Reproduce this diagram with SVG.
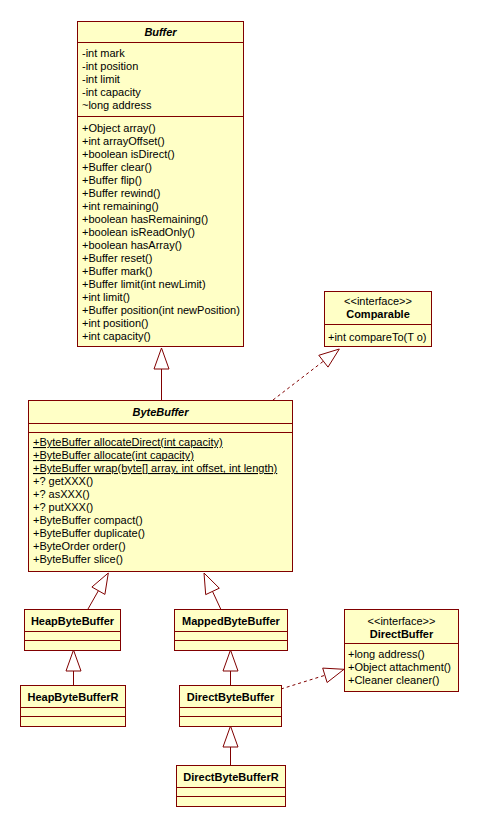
<svg xmlns="http://www.w3.org/2000/svg" width="479" height="827" viewBox="0 0 479 827">
<style>
.box{fill:#ffffc6;stroke:#800000;stroke-width:1}
.ln{stroke:#800000;stroke-width:1;fill:none}
.dash{stroke:#800000;stroke-width:1;fill:none;stroke-dasharray:3,3}
.tri{fill:#ffffff;stroke:#800000;stroke-width:1}
text{font-family:"Liberation Sans",Arial,sans-serif;font-size:11px;fill:#000}
.t{font-weight:bold;text-anchor:middle}
.ti{font-weight:bold;font-style:italic;text-anchor:middle}
.c{text-anchor:middle}
.u{text-decoration:underline}
</style>
<rect width="479" height="827" fill="#fff"/>
<g id="connectors">
<line class="ln" x1="161.5" y1="369" x2="161.5" y2="400"/>
<polygon class="tri" points="161.5,348 154,369 169,369"/>
<line class="dash" x1="273" y1="400" x2="323.4" y2="361.2"/>
<polygon class="tri" points="339.3,349 318.8,355.3 328,367.1"/>
<line class="ln" x1="88" y1="609" x2="98.4" y2="590.7"/>
<polygon class="tri" points="108.3,573 91.9,587 104.9,594.4"/>
<line class="ln" x1="220.7" y1="609" x2="212.5" y2="591.4"/>
<polygon class="tri" points="204,573 205.7,594.6 219.3,588.2"/>
<line class="ln" x1="73.5" y1="671" x2="73.5" y2="685"/>
<polygon class="tri" points="73.5,650 66,671 81,671"/>
<line class="ln" x1="230.5" y1="671" x2="230.5" y2="686"/>
<polygon class="tri" points="230.5,650 223,671 238,671"/>
<line class="ln" x1="230.5" y1="747" x2="230.5" y2="765"/>
<polygon class="tri" points="230.5,726 223,747 238,747"/>
<line class="dash" x1="281" y1="689" x2="324.9" y2="675.3"/>
<polygon class="tri" points="344,669.3 322.7,668.1 327.1,682.5"/>
</g>
<g id="Buffer">
<rect class="box" x="77.5" y="21.5" width="166" height="325"/>
<line class="ln" x1="77.5" y1="42.5" x2="243.5" y2="42.5"/>
<line class="ln" x1="77.5" y1="116.5" x2="243.5" y2="116.5"/>
<text class="ti" x="160.5" y="36">Buffer</text>
<text x="82" y="57">-int mark</text>
<text x="82" y="70">-int position</text>
<text x="82" y="83">-int limit</text>
<text x="82" y="96">-int capacity</text>
<text x="82" y="109">~long address</text>
<text x="82" y="132">+Object array()</text>
<text x="82" y="145">+int arrayOffset()</text>
<text x="82" y="158">+boolean isDirect()</text>
<text x="82" y="171">+Buffer clear()</text>
<text x="82" y="184">+Buffer flip()</text>
<text x="82" y="197">+Buffer rewind()</text>
<text x="82" y="210">+int remaining()</text>
<text x="82" y="223">+boolean hasRemaining()</text>
<text x="82" y="236">+boolean isReadOnly()</text>
<text x="82" y="249">+boolean hasArray()</text>
<text x="82" y="262">+Buffer reset()</text>
<text x="82" y="275">+Buffer mark()</text>
<text x="82" y="288">+Buffer limit(int newLimit)</text>
<text x="82" y="301">+int limit()</text>
<text x="82" y="314">+Buffer position(int newPosition)</text>
<text x="82" y="327">+int position()</text>
<text x="82" y="340">+int capacity()</text>
</g>
<g id="Comparable">
<rect class="box" x="324.5" y="291.5" width="107" height="55"/>
<line class="ln" x1="324.5" y1="324.5" x2="431.5" y2="324.5"/>
<text class="c" x="378" y="305">&lt;&lt;interface&gt;&gt;</text>
<text class="t" x="378" y="318">Comparable</text>
<text x="328" y="341">+int compareTo(T o)</text>
</g>
<g id="ByteBuffer">
<rect class="box" x="28.5" y="400.5" width="264" height="171"/>
<line class="ln" x1="28.5" y1="423.5" x2="292.5" y2="423.5"/>
<line class="ln" x1="28.5" y1="432.5" x2="292.5" y2="432.5"/>
<text class="ti" x="160.5" y="416">ByteBuffer</text>
<text class="u" x="33" y="446">+ByteBuffer allocateDirect(int capacity)</text>
<text class="u" x="33" y="459">+ByteBuffer allocate(int capacity)</text>
<text class="u" x="33" y="472">+ByteBuffer wrap(byte[] array, int offset, int length)</text>
<text x="33" y="485">+? getXXX()</text>
<text x="33" y="498">+? asXXX()</text>
<text x="33" y="511">+? putXXX()</text>
<text x="33" y="524">+ByteBuffer compact()</text>
<text x="33" y="537">+ByteBuffer duplicate()</text>
<text x="33" y="550">+ByteOrder order()</text>
<text x="33" y="563">+ByteBuffer slice()</text>
</g>
<g id="HeapByteBuffer">
<rect class="box" x="24.5" y="609.5" width="96" height="41"/>
<line class="ln" x1="24.5" y1="631.5" x2="120.5" y2="631.5"/>
<line class="ln" x1="24.5" y1="640.5" x2="120.5" y2="640.5"/>
<text class="t" x="72.5" y="625">HeapByteBuffer</text>
</g>
<g id="MappedByteBuffer">
<rect class="box" x="174.5" y="609.5" width="113" height="41"/>
<line class="ln" x1="174.5" y1="631.5" x2="287.5" y2="631.5"/>
<line class="ln" x1="174.5" y1="640.5" x2="287.5" y2="640.5"/>
<text class="t" x="231" y="625">MappedByteBuffer</text>
</g>
<g id="HeapByteBufferR">
<rect class="box" x="20.5" y="685.5" width="105" height="41"/>
<line class="ln" x1="20.5" y1="707.5" x2="125.5" y2="707.5"/>
<line class="ln" x1="20.5" y1="716.5" x2="125.5" y2="716.5"/>
<text class="t" x="73" y="701">HeapByteBufferR</text>
</g>
<g id="DirectByteBuffer">
<rect class="box" x="179.5" y="685.5" width="102" height="41"/>
<line class="ln" x1="179.5" y1="707.5" x2="281.5" y2="707.5"/>
<line class="ln" x1="179.5" y1="716.5" x2="281.5" y2="716.5"/>
<text class="t" x="230.5" y="701">DirectByteBuffer</text>
</g>
<g id="DirectByteBufferR">
<rect class="box" x="176.5" y="765.5" width="109" height="41"/>
<line class="ln" x1="176.5" y1="787.5" x2="285.5" y2="787.5"/>
<line class="ln" x1="176.5" y1="796.5" x2="285.5" y2="796.5"/>
<text class="t" x="231" y="781">DirectByteBufferR</text>
</g>
<g id="DirectBuffer">
<rect class="box" x="344.5" y="609.5" width="114" height="82"/>
<line class="ln" x1="344.5" y1="643.5" x2="458.5" y2="643.5"/>
<text class="c" x="401.5" y="625">&lt;&lt;interface&gt;&gt;</text>
<text class="t" x="401.5" y="638">DirectBuffer</text>
<text x="348" y="658">+long address()</text>
<text x="348" y="671">+Object attachment()</text>
<text x="348" y="684">+Cleaner cleaner()</text>
</g>
</svg>
